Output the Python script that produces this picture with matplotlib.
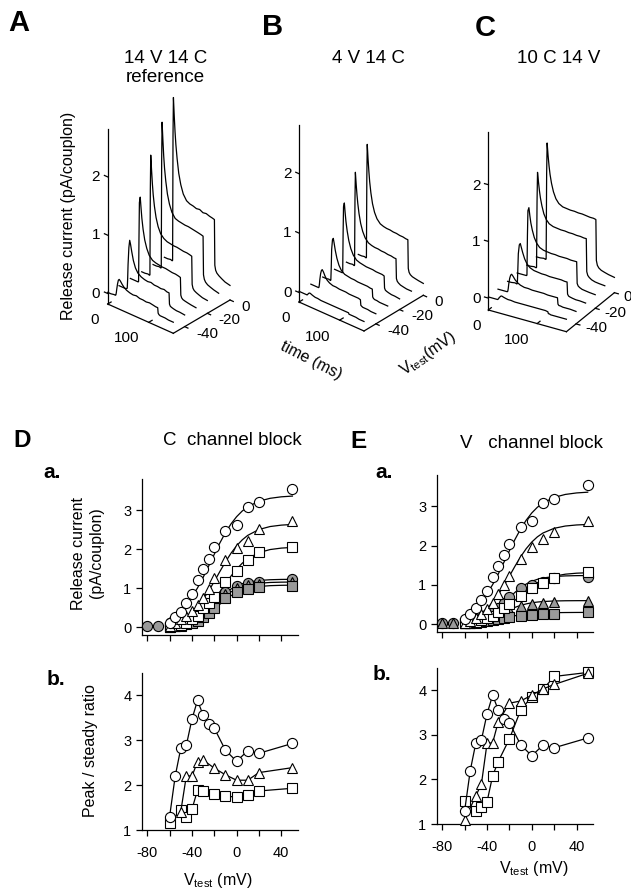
import numpy as np
import matplotlib
matplotlib.use("Agg")
import matplotlib.pyplot as plt
from mpl_toolkits.mplot3d import Axes3D  # noqa: F401
from mpl_toolkits.mplot3d import proj3d

plt.rcParams['font.family'] = ['Liberation Sans', 'DejaVu Sans']
plt.rcParams['axes.unicode_minus'] = False
plt.rcParams['mathtext.fontset'] = 'custom'
plt.rcParams['mathtext.rm'] = 'Liberation Sans'
plt.rcParams['mathtext.it'] = 'Liberation Sans:italic'

FIG_W, FIG_H = 631, 890

# ---------------- data: waterfall traces (A, B, C) ----------------
time_ms = [0, 8, 15, 19, 20, 21, 22, 24, 26, 28, 31, 35, 40, 46, 54, 62, 70, 78,
           86, 94, 102, 110, 117, 122, 123, 125, 128, 133, 140, 148, 160]
trace_vtest = [-50, -40, -30, -20, -10, 0]
time_ticks = [0, 100]
vtest_ticks = [-40, -20, 0]
current_ticks = [0, 1, 2]

traces_A = [
    [0.02, 0.02, 0.03, 0.03, 0.04, 0.08, 0.14, 0.24, 0.31, 0.33, 0.31, 0.27, 0.23, 0.20, 0.18,
     0.17, 0.18, 0.16, 0.16, 0.15, 0.16, 0.15, 0.14, 0.14, 0.05, 0.03, 0.02, 0.02, 0.02, 0.01, 0.01],
    [0.02, 0.02, 0.02, 0.03, 0.04, 0.20, 0.45, 0.75, 0.88, 0.82, 0.70, 0.56, 0.45, 0.38, 0.34,
     0.32, 0.31, 0.32, 0.30, 0.30, 0.29, 0.30, 0.28, 0.28, 0.09, 0.06, 0.05, 0.04, 0.03, 0.03, 0.02],
    [0.03, 0.03, 0.03, 0.03, 0.04, 0.80, 1.40, 1.50, 1.32, 1.15, 0.97, 0.80, 0.67, 0.57, 0.51,
     0.49, 0.48, 0.47, 0.47, 0.46, 0.45, 0.45, 0.44, 0.43, 0.13, 0.09, 0.07, 0.06, 0.05, 0.04, 0.03],
    [0.03, 0.03, 0.04, 0.03, 0.04, 1.50, 2.10, 1.85, 1.62, 1.44, 1.25, 1.07, 0.93, 0.83, 0.77,
     0.74, 0.73, 0.72, 0.72, 0.71, 0.70, 0.70, 0.69, 0.68, 0.20, 0.14, 0.11, 0.09, 0.07, 0.05, 0.04],
    [0.04, 0.04, 0.05, 0.04, 0.05, 1.90, 2.55, 2.25, 1.98, 1.78, 1.57, 1.36, 1.20, 1.08, 1.00,
     0.98, 0.97, 0.96, 0.96, 0.95, 0.94, 0.93, 0.92, 0.91, 0.25, 0.18, 0.14, 0.11, 0.09, 0.07, 0.05],
    [0.05, 0.05, 0.06, 0.05, 0.06, 2.20, 2.86, 2.55, 2.28, 2.07, 1.84, 1.60, 1.42, 1.28, 1.19,
     1.16, 1.15, 1.13, 1.14, 1.11, 1.12, 1.10, 1.09, 1.08, 0.30, 0.22, 0.18, 0.15, 0.12, 0.09, 0.07],
]
traces_B = [
    [0.02, 0.02, 0.02, 0.02, 0.02, 0.03, 0.04, 0.06, 0.07, 0.07, 0.06, 0.05, 0.04, 0.04, 0.03,
     0.03, 0.03, 0.03, 0.03, 0.03, 0.03, 0.03, 0.03, 0.03, 0.01, 0.01, 0.01, 0.01, 0.01, 0.00, 0.00],
    [0.02, 0.02, 0.02, 0.02, 0.03, 0.08, 0.16, 0.27, 0.33, 0.35, 0.32, 0.26, 0.21, 0.18, 0.16,
     0.16, 0.15, 0.15, 0.15, 0.14, 0.14, 0.14, 0.14, 0.13, 0.04, 0.03, 0.02, 0.02, 0.02, 0.01, 0.01],
    [0.02, 0.02, 0.03, 0.02, 0.03, 0.25, 0.55, 0.72, 0.75, 0.68, 0.56, 0.44, 0.34, 0.27, 0.23,
     0.22, 0.21, 0.21, 0.20, 0.20, 0.20, 0.20, 0.19, 0.19, 0.06, 0.04, 0.03, 0.03, 0.02, 0.02, 0.02],
    [0.03, 0.03, 0.03, 0.03, 0.04, 0.70, 1.15, 1.22, 1.06, 0.92, 0.77, 0.62, 0.50, 0.41, 0.35,
     0.33, 0.32, 0.31, 0.31, 0.31, 0.30, 0.30, 0.30, 0.29, 0.09, 0.06, 0.05, 0.04, 0.03, 0.03, 0.02],
    [0.03, 0.03, 0.04, 0.03, 0.04, 1.15, 1.61, 1.41, 1.24, 1.10, 0.94, 0.79, 0.67, 0.58, 0.52,
     0.50, 0.49, 0.49, 0.48, 0.48, 0.47, 0.47, 0.46, 0.46, 0.13, 0.09, 0.07, 0.05, 0.04, 0.03, 0.03],
    [0.04, 0.04, 0.05, 0.04, 0.05, 1.40, 1.96, 1.72, 1.52, 1.35, 1.17, 1.00, 0.87, 0.78, 0.72,
     0.70, 0.69, 0.69, 0.68, 0.68, 0.67, 0.67, 0.66, 0.66, 0.18, 0.12, 0.09, 0.07, 0.06, 0.05, 0.04],
]
traces_C = [
    [0.02, 0.02, 0.02, 0.02, 0.03, 0.04, 0.06, 0.08, 0.10, 0.10, 0.09, 0.08, 0.07, 0.07, 0.06,
     0.06, 0.06, 0.06, 0.06, 0.06, 0.06, 0.06, 0.06, 0.05, 0.02, 0.02, 0.01, 0.01, 0.01, 0.01, 0.01],
    [0.02, 0.02, 0.02, 0.02, 0.03, 0.08, 0.16, 0.27, 0.33, 0.35, 0.32, 0.27, 0.23, 0.20, 0.18,
     0.18, 0.17, 0.17, 0.17, 0.17, 0.16, 0.16, 0.16, 0.16, 0.05, 0.03, 0.03, 0.02, 0.02, 0.02, 0.01],
    [0.02, 0.02, 0.03, 0.02, 0.03, 0.28, 0.56, 0.72, 0.75, 0.69, 0.60, 0.50, 0.42, 0.37, 0.34,
     0.33, 0.32, 0.32, 0.31, 0.31, 0.31, 0.31, 0.30, 0.30, 0.09, 0.06, 0.05, 0.04, 0.03, 0.03, 0.02],
    [0.03, 0.03, 0.03, 0.03, 0.04, 0.75, 1.18, 1.24, 1.10, 0.98, 0.86, 0.74, 0.65, 0.59, 0.56,
     0.55, 0.54, 0.54, 0.53, 0.53, 0.53, 0.52, 0.52, 0.52, 0.14, 0.10, 0.08, 0.06, 0.05, 0.04, 0.03],
    [0.03, 0.03, 0.04, 0.03, 0.04, 1.20, 1.72, 1.55, 1.40, 1.28, 1.15, 1.02, 0.93, 0.87, 0.84,
     0.83, 0.82, 0.82, 0.81, 0.81, 0.80, 0.80, 0.79, 0.79, 0.21, 0.15, 0.12, 0.09, 0.07, 0.06, 0.05],
    [0.04, 0.04, 0.05, 0.04, 0.05, 1.55, 2.10, 1.88, 1.70, 1.56, 1.41, 1.27, 1.16, 1.09, 1.05,
     1.04, 1.03, 1.03, 1.02, 1.02, 1.01, 1.00, 1.00, 0.99, 0.27, 0.19, 0.15, 0.12, 0.10, 0.08, 0.06],
]

# ---------------- data: I-V curves (D a, E a) ----------------
v_test = [-60, -55, -50, -45, -40, -35, -30, -25, -20, -10, 0, 10, 20, 50]
v_test_ext = [-80, -70] + v_test
ref_circle = [0.12, 0.27, 0.40, 0.61, 0.85, 1.21, 1.48, 1.76, 2.05, 2.47, 2.62, 3.08, 3.20, 3.54]

Da_open_tri = [0.04, 0.10, 0.20, 0.30, 0.42, 0.57, 0.74, 0.98, 1.25, 1.72, 2.02, 2.21, 2.51, 2.73]
Da_open_sq = [0.00, 0.03, 0.06, 0.12, 0.20, 0.30, 0.50, 0.62, 0.78, 1.15, 1.45, 1.72, 1.92, 2.05]
Da_gray_circ = [0.03, 0.03, 0.06, 0.08, 0.10, 0.13, 0.20, 0.28, 0.38, 0.50, 0.62, 0.90, 1.06, 1.13, 1.17, 1.23]
Da_gray_tri = [0.03, 0.05, 0.07, 0.10, 0.15, 0.22, 0.33, 0.45, 0.56, 0.85, 1.00, 1.08, 1.12, 1.17]
Da_gray_sq = [0.00, 0.02, 0.04, 0.07, 0.10, 0.16, 0.26, 0.36, 0.48, 0.75, 0.90, 0.98, 1.02, 1.06]

Ea_open_tri = [0.04, 0.08, 0.15, 0.25, 0.38, 0.55, 0.77, 1.00, 1.23, 1.66, 1.96, 2.17, 2.36, 2.62]
Ea_open_sq = [0.02, 0.04, 0.06, 0.10, 0.15, 0.22, 0.30, 0.42, 0.52, 0.72, 0.92, 1.05, 1.17, 1.34]
Ea_gray_circ = [0.03, 0.03, 0.05, 0.07, 0.10, 0.15, 0.22, 0.30, 0.42, 0.55, 0.68, 0.92, 1.00, 1.08, 1.18, 1.20]
Ea_gray_tri = [0.03, 0.03, 0.04, 0.05, 0.07, 0.10, 0.13, 0.18, 0.24, 0.30, 0.36, 0.45, 0.52, 0.55, 0.57, 0.60]
Ea_gray_sq = [0.02, 0.03, 0.04, 0.05, 0.07, 0.10, 0.12, 0.15, 0.17, 0.21, 0.24, 0.26, 0.27, 0.30]

# fitted curves
v_fit = [-62, -55, -50, -45, -40, -35, -30, -25, -20, -15, -10, -5, 0, 5, 10, 20, 30, 40, 50]
fit_ref_circle = [0.197, 0.312, 0.429, 0.582, 0.774, 1.007, 1.276, 1.570, 1.870, 2.160, 2.423,
                  2.649, 2.833, 2.978, 3.088, 3.230, 3.305, 3.343, 3.362]
fit_Da_tri = [0.081, 0.135, 0.194, 0.275, 0.386, 0.531, 0.713, 0.930, 1.173, 1.427, 1.673,
              1.897, 2.087, 2.238, 2.355, 2.505, 2.581, 2.617, 2.635]
fit_Da_sq = [0.037, 0.064, 0.094, 0.137, 0.198, 0.282, 0.395, 0.538, 0.711, 0.907, 1.112,
             1.311, 1.490, 1.639, 1.758, 1.912, 1.991, 2.028, 2.046]
fit_Da_gcirc = [0.026, 0.049, 0.076, 0.115, 0.172, 0.250, 0.353, 0.478, 0.615, 0.752, 0.877,
                0.979, 1.058, 1.115, 1.154, 1.198, 1.217, 1.225, 1.228]
fit_Da_gtri = [0.023, 0.042, 0.065, 0.100, 0.150, 0.220, 0.312, 0.426, 0.554, 0.684, 0.805,
               0.906, 0.985, 1.042, 1.082, 1.127, 1.147, 1.155, 1.158]
fit_Da_gsq = [0.018, 0.033, 0.051, 0.079, 0.119, 0.176, 0.254, 0.352, 0.467, 0.589, 0.706,
              0.808, 0.890, 0.951, 0.995, 1.044, 1.065, 1.074, 1.078]
fit_Ea_tri = [0.079, 0.136, 0.197, 0.283, 0.400, 0.555, 0.748, 0.975, 1.224, 1.477, 1.715,
              1.923, 2.092, 2.224, 2.322, 2.442, 2.500, 2.527, 2.540]
fit_Ea_gcirc = [0.032, 0.059, 0.090, 0.136, 0.202, 0.291, 0.404, 0.536, 0.676, 0.811, 0.928,
                1.022, 1.092, 1.142, 1.176, 1.213, 1.229, 1.236, 1.238]
fit_Ea_sq = [0.030, 0.050, 0.072, 0.104, 0.147, 0.205, 0.281, 0.375, 0.487, 0.609, 0.736,
             0.857, 0.965, 1.056, 1.128, 1.223, 1.273, 1.298, 1.310]
fit_Ea_gtri = [0.020, 0.037, 0.056, 0.084, 0.122, 0.172, 0.233, 0.300, 0.367, 0.428, 0.478,
               0.516, 0.544, 0.563, 0.576, 0.590, 0.596, 0.598, 0.599]
fit_Ea_gsq = [0.019, 0.031, 0.044, 0.060, 0.081, 0.105, 0.133, 0.162, 0.189, 0.215, 0.236,
              0.253, 0.267, 0.276, 0.284, 0.292, 0.296, 0.298, 0.299]

# ---------------- data: peak / steady ratios (D b, E b) ----------------
ratio_ref_circle = [1.30, 2.20, 2.82, 2.89, 3.47, 3.89, 3.56, 3.36, 3.27, 2.78, 2.53, 2.77, 2.71, 2.93]
v_Db_tri = [-50, -45, -40, -35, -30, -20, -10, 0, 10, 20, 50]
ratio_Db_tri = [1.41, 2.21, 2.20, 2.52, 2.56, 2.38, 2.23, 2.11, 2.11, 2.28, 2.39]
v_Db_sq = [-60, -50, -45, -40, -35, -30, -20, -10, 0, 10, 20, 50]
ratio_Db_sq = [1.15, 1.45, 1.30, 1.46, 1.89, 1.88, 1.81, 1.76, 1.73, 1.78, 1.87, 1.93]
v_Eb = [-60, -50, -45, -40, -35, -30, -20, -10, 0, 10, 20, 50]
ratio_Eb_tri = [1.10, 1.63, 1.90, 2.81, 2.82, 3.29, 3.71, 3.76, 3.89, 4.03, 4.13, 4.38]
ratio_Eb_sq = [1.52, 1.29, 1.38, 1.50, 2.08, 2.40, 2.91, 3.55, 3.86, 4.02, 4.31, 4.40]

x_major = [-80, -40, 0, 40]
x_minor = [-60, -20, 20]

# ---------------- figure ----------------
fig = plt.figure(figsize=(FIG_W / 100, FIG_H / 100), dpi=100)


def ftext(x, y, s, **kw):
    fig.text(x / FIG_W, 1 - y / FIG_H, s, **kw)


T_LIM = (0, 160)
V_LIM = (-50, 0)


def waterfall(corner, tvec, vvec, zpx, zlim, traces, lab_dt=28, S=300):
    tx, ty = tvec[0], -tvec[1]
    vx, vy = vvec[0], -vvec[1]
    r1, r2 = -ty / tx, vy / vx
    elev = np.arcsin(np.sqrt(r1 * r2))
    b = np.arctan(np.sqrt(r2 / r1))
    k = S / 1.85
    zspan = zpx * (zlim[1] - zlim[0])
    box = np.array([tx / (k * np.sin(b)), vx / (k * np.cos(b)), zspan / (k * np.cos(elev))])
    zoom = np.linalg.norm(box) / (1.8294640721620434 * 25 / 24)
    cx = corner[0] + 0.5 * (tx + vx)
    cy = (FIG_H - corner[1]) + 0.5 * (ty + vy + zspan)
    left = cx - 0.95 / 1.85 * S
    bottom = cy - 0.95 / 1.85 * S
    ax = fig.add_axes([left / FIG_W, bottom / FIG_H, S / FIG_W, S / FIG_H],
                      projection='3d', proj_type='ortho')
    ax.view_init(elev=np.degrees(elev), azim=-np.degrees(b), roll=0)
    ax.set_box_aspect(box, zoom=zoom)
    ax.set_xlim(*T_LIM)
    ax.set_ylim(*V_LIM)
    ax.set_zlim(*zlim)
    ax.set_xticks([])
    ax.set_yticks([])
    ax.set_zticks([])
    ax.set_axis_off()
    ax.set_facecolor((1, 1, 1, 0))
    ax.patch.set_visible(False)
    M = ax.get_proj()

    def label(x, y, z, s, **kw):
        # place the label at the projected 3D point, as a plain 2D text
        px, py, _ = proj3d.proj_transform(np.array([x]), np.array([y]), np.array([z]), M)
        ax.text2D(float(px[0]), float(py[0]), s, transform=ax.transData, fontsize=11,
                  va='center', **kw)

    t0, t1 = T_LIM
    v0, v1 = V_LIM
    z0 = zlim[0]
    kw = dict(color='k', lw=0.9, clip_on=False)
    for v, cur in zip(trace_vtest, traces):
        ax.plot(time_ms, [v] * len(time_ms), cur, **kw)
    # axis lines
    ax.plot([t0, t0], [v0, v0], [zlim[0], zlim[1]], **kw)
    ax.plot([t0, t1], [v0, v0], [z0, z0], **kw)
    ax.plot([t1, t1], [v0, v1], [z0, z0], **kw)
    for zt in current_ticks:
        ax.plot([t0, t0 - 8], [v0, v0], [zt, zt], **kw)
        label(t0 - 10, v0 - 3, zt, str(zt), ha='right')
    for tt in time_ticks:
        ax.plot([tt, tt], [v0, v0 + 3], [z0, z0], **kw)
        label(tt, v0 - 8, z0 - 0.18, str(tt), ha='right')
    for vt in vtest_ticks:
        ax.plot([t1, t1 + 8], [vt, vt], [z0, z0], **kw)
        label(t1 + lab_dt, vt, z0 - 0.03, str(vt), ha='left')
    return ax


waterfall((107.7, 304), (65.6, 29.3), (56.7, -33.3), 58.3, (-0.18, 2.83), traces_A)
waterfall((299.0, 302), (65.0, 29.0), (59.3, -35.7), 59.4, (-0.16, 2.82), traces_B)
waterfall((488.4, 310), (78.0, 21.7), (48.0, -39.0), 56.7, (-0.21, 2.93), traces_C, lab_dt=19)

# texts top
ftext(8.3, 30.7, 'A', fontsize=21, fontweight='bold', va='baseline')
ftext(261.7, 35, 'B', fontsize=21, fontweight='bold', va='baseline')
ftext(475, 36, 'C', fontsize=21, fontweight='bold', va='baseline')
ftext(166, 62.7, '14 V 14 C', fontsize=13.5, ha='center', va='baseline')
ftext(165.5, 81.7, 'reference', fontsize=13.5, ha='center', va='baseline')
ftext(368.3, 63.3, '4 V 14 C', fontsize=13.5, ha='center', va='baseline')
ftext(559, 63.3, '10 C 14 V', fontsize=13.5, ha='center', va='baseline')
ftext(69, 216, 'Release current (pA/couplon)', fontsize=11.5, rotation=90,
      ha='center', va='center')
ftext(310.8, 360, 'time (ms)', fontsize=11.5, rotation=-27, ha='center', va='center',
      rotation_mode='anchor')
ftext(428.3, 353.3, r'V$_{\mathrm{test}}$(mV)', fontsize=11.5, rotation=35, ha='center',
      va='center', rotation_mode='anchor')


# ---------------- scatter panels ----------------
def add_ax(left, top, right, bottom):
    return fig.add_axes([left / FIG_W, 1 - bottom / FIG_H, (right - left) / FIG_W,
                         (bottom - top) / FIG_H])


def style(ax, ylim, yticks, show_xlabels):
    ax.set_xlim(-85, 55)
    ax.set_ylim(*ylim)
    ax.set_yticks(yticks)
    ax.set_xticks(x_major)
    ax.set_xticks(x_minor, minor=True)
    for s in ('top', 'right'):
        ax.spines[s].set_visible(False)
    for s in ('left', 'bottom'):
        ax.spines[s].set_linewidth(0.9)
    ax.tick_params(which='both', direction='out', length=4.5, width=0.9, labelsize=10.5)
    ax.tick_params(axis='x', which='both', pad=7, labelbottom=show_xlabels)
    ax.tick_params(axis='y', pad=3)
    ax.patch.set_visible(False)


GRAY = '#9a9a9a'
mk = dict(linestyle='none', mec='k', mew=0.8, clip_on=False, zorder=3)
MS = {'o': 7.3, '^': 7.8, 's': 6.6}


def pts(ax, x, y, m, fc):
    ax.plot(x, y, marker=m, ms=MS[m], mfc=fc, **mk)


def fitline(ax, y):
    ax.plot(v_fit, y, color='k', lw=0.9, zorder=2)


# D a
axDa = add_ax(141.7, 479, 298, 635)
style(axDa, (-0.2, 3.8), [0, 1, 2, 3], False)
for f in (fit_ref_circle, fit_Da_tri, fit_Da_sq, fit_Da_gcirc, fit_Da_gtri, fit_Da_gsq):
    fitline(axDa, f)
pts(axDa, v_test_ext, Da_gray_circ, 'o', GRAY)
pts(axDa, v_test, Da_gray_tri, '^', GRAY)
pts(axDa, v_test, Da_gray_sq, 's', GRAY)
pts(axDa, v_test, Da_open_sq, 's', 'white')
pts(axDa, v_test, Da_open_tri, '^', 'white')
pts(axDa, v_test, ref_circle, 'o', 'white')

# D b
axDb = add_ax(141.7, 673, 298, 830)
style(axDb, (1, 4.5), [1, 2, 3, 4], True)
lk = dict(color='k', lw=0.9, mec='k', mew=0.8, clip_on=False, zorder=3)
axDb.plot(v_Db_sq, ratio_Db_sq, marker='s', ms=MS['s'], mfc='white', **lk)
axDb.plot(v_Db_tri, ratio_Db_tri, marker='^', ms=MS['^'], mfc='white', **lk)
axDb.plot(v_test, ratio_ref_circle, marker='o', ms=MS['o'], mfc='white', **lk)

# E a
axEa = add_ax(436.7, 475, 593.3, 632)
style(axEa, (-0.2, 3.8), [0, 1, 2, 3], False)
for f in (fit_ref_circle, fit_Ea_tri, fit_Ea_gcirc, fit_Ea_sq, fit_Ea_gtri, fit_Ea_gsq):
    fitline(axEa, f)
pts(axEa, v_test_ext, Ea_gray_circ, 'o', GRAY)
pts(axEa, v_test_ext, Ea_gray_tri, '^', GRAY)
pts(axEa, v_test, Ea_gray_sq, 's', GRAY)
pts(axEa, v_test, Ea_open_sq, 's', 'white')
pts(axEa, v_test, Ea_open_tri, '^', 'white')
pts(axEa, v_test, ref_circle, 'o', 'white')

# E b
axEb = add_ax(436.7, 668, 593.3, 824)
style(axEb, (1, 4.5), [1, 2, 3, 4], True)
axEb.plot(v_Eb, ratio_Eb_sq, marker='s', ms=MS['s'], mfc='white', **lk)
axEb.plot(v_Eb, ratio_Eb_tri, marker='^', ms=MS['^'], mfc='white', **lk)
axEb.plot(v_test, ratio_ref_circle, marker='o', ms=MS['o'], mfc='white', **lk)

# texts bottom
ftext(13.3, 447, 'D', fontsize=17.5, fontweight='bold', va='baseline')
ftext(350, 448, 'E', fontsize=17.5, fontweight='bold', va='baseline')
ftext(163, 445, 'C  channel block', fontsize=13.5, va='baseline')
ftext(460, 448, 'V   channel block', fontsize=13.5, va='baseline')
ftext(43, 478, 'a.', fontsize=15, fontweight='bold', va='baseline')
ftext(47, 685, 'b.', fontsize=15, fontweight='bold', va='baseline')
ftext(375, 478, 'a.', fontsize=15, fontweight='bold', va='baseline')
ftext(373, 680, 'b.', fontsize=15, fontweight='bold', va='baseline')
ftext(87.5, 553, 'Release current\n(pA/couplon)', fontsize=11.5, rotation=90,
      ha='center', va='center', multialignment='center', linespacing=1.2)
ftext(91, 751, 'Peak / steady ratio', fontsize=11.5, rotation=90, ha='center', va='center')
ftext(217.5, 885, r'V$_{\mathrm{test}}$ (mV)', fontsize=11.5, ha='center', va='baseline')
ftext(533.3, 873, r'V$_{\mathrm{test}}$ (mV)', fontsize=11.5, ha='center', va='baseline')

fig.savefig('out.png', dpi=100)
